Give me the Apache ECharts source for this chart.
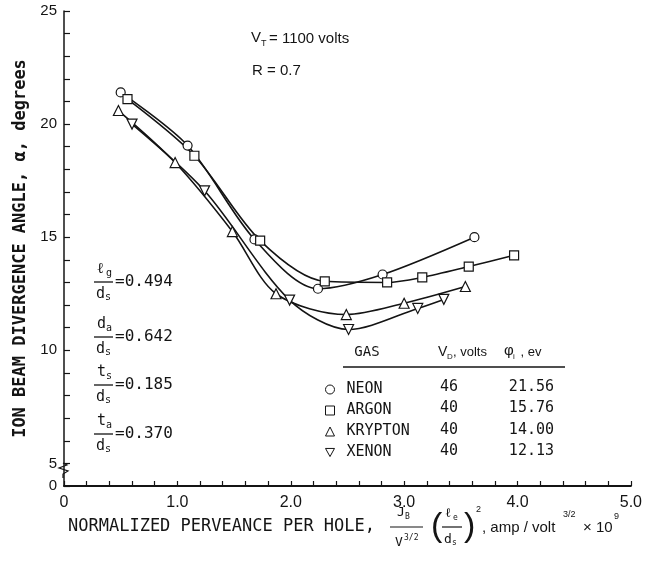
<!DOCTYPE html>
<html>
<head>
<meta charset="utf-8">
<script src="https://cdn.jsdelivr.net/npm/echarts@6/dist/echarts.min.js"></script>
<style>html,body{margin:0;padding:0;background:#fff}#c{width:645px;height:561px}</style>
</head>
<body>
<div id="c"></div>
<script>
// ---- data ----
const neonX = [0.50, 1.09, 1.68, 2.24, 2.81, 3.62];
const neonY = [21.4, 19.05, 14.9, 12.72, 13.35, 15.0];
const argonX = [0.56, 1.15, 1.73, 2.30, 2.85, 3.16, 3.57, 3.97];
const argonY = [21.1, 18.6, 14.85, 13.05, 13.0, 13.22, 13.7, 14.2];
const kryptonX = [0.48, 0.98, 1.485, 1.87, 2.49, 3.00, 3.54];
const kryptonY = [20.6, 18.3, 15.25, 12.5, 11.58, 12.08, 12.82];
const xenonX = [0.60, 1.24, 1.99, 2.51, 3.12, 3.35];
const xenonY = [20.0, 17.05, 12.22, 10.92, 11.85, 12.25];

const gasNames = ['NEON', 'ARGON', 'KRYPTON', 'XENON'];
const vdValues = ['46', '40', '40', '40'];
const phiValues = ['21.56', '15.76', '14.00', '12.13'];
const yTickLabels = [5, 10, 15, 20, 25];

// ---- build ----
const zip = (xs, ys) => xs.map((x, i) => [x, ys[i]]);
const INK = '#141414';
const MONO = '"DejaVu Sans Mono"';
const SANS = '"Liberation Sans"';
const downTri = 'path://M0,0L10,0L5,9Z';
const symbols = ['circle', 'rect', 'triangle', downTri];
const seriesData = [zip(neonX, neonY), zip(argonX, argonY), zip(kryptonX, kryptonY), zip(xenonX, xenonY)];

const series = gasNames.map((n, i) => ({
  name: n, type: 'line', smooth: 0.3, data: seriesData[i],
  symbol: symbols[i], symbolSize: i >= 2 ? 10 : 9,
  itemStyle: { color: '#fff', borderColor: INK, borderWidth: 1.2 },
  lineStyle: { color: INK, width: 1.6 },
  emphasis: { disabled: true }, animation: false
}));

function T(x, y, text, size, font, align, extra) {
  return Object.assign({
    type: 'text', x: x, y: y, silent: true,
    style: { text: text, font: size + 'px ' + font, fill: INK,
             textAlign: align || 'left', align: align || 'left',
             textVerticalAlign: 'middle', verticalAlign: 'middle' }
  }, extra || {});
}
function L(x1, y1, x2, y2, w) {
  return { type: 'line', silent: true, shape: { x1, y1, x2, y2 }, style: { stroke: INK, lineWidth: w || 1.3 } };
}

const g = [];
// V_T = 1100 volts, R = 0.7
g.push(T(251, 38, 'V', 15, SANS));
g.push(T(261, 44, 'T', 9, SANS));
g.push(T(269, 39, '= 1100 volts', 15, SANS));
g.push(T(252, 71, 'R = 0.7', 15, SANS));

// left fractions
const fr = [
  { y: 282, n: 'ℓ', ns: 'g', v: '=0.494' },
  { y: 337, n: 'd', ns: 'a', v: '=0.642' },
  { y: 385, n: 't', ns: 's', v: '=0.185' },
  { y: 434, n: 't', ns: 'a', v: '=0.370' }
];
fr.forEach(f => {
  g.push(T(97, f.y - 13, f.n, 15, MONO));
  g.push(T(106, f.y - 9, f.ns, 10, MONO));
  g.push(L(94, f.y, 113, f.y, 1.3));
  g.push(T(96, f.y + 12, 'd', 15, MONO));
  g.push(T(105, f.y + 15, 's', 10, MONO));
  g.push(T(115, f.y, f.v, 16, MONO));
});

// table
g.push(T(367, 352, 'GAS', 14, MONO, 'center'));
g.push(T(438, 352, 'V', 14, SANS));
g.push(T(447, 357, 'D', 8, SANS));
g.push(T(453, 352, ', volts', 13, SANS));
g.push(T(504, 351, 'φ', 15, SANS));
g.push(T(513, 357, 'i', 8, SANS));
g.push(T(517, 352, ' , ev', 13, SANS));
g.push(L(343, 367, 565, 367, 1.6));
gasNames.forEach((n, i) => {
  const y = 387 + i * 21.5;
  g.push(T(449, y, vdValues[i], 15, MONO, 'center'));
  g.push(T(554, y, phiValues[i], 15, MONO, 'right'));
});

// x-axis title
const ty = 527;
g.push(T(68, ty, 'NORMALIZED PERVEANCE PER HOLE,', 17, MONO));
g.push(T(397, ty - 14, 'J', 13, MONO));
g.push(T(405, ty - 10, 'B', 8, MONO));
g.push(L(390, ty, 423, ty, 1.2));
g.push(T(395, ty + 16, 'V', 13, MONO));
g.push(T(404, ty + 11, '3/2', 8, MONO));
g.push(T(431, ty, '(', 34, SANS));
g.push(T(445, ty - 13, 'ℓ', 13, MONO));
g.push(T(453, ty - 9, 'e', 8, MONO));
g.push(L(442, ty, 462, ty, 1.2));
g.push(T(444, ty + 13, 'd', 13, MONO));
g.push(T(452, ty + 16, 's', 8, MONO));
g.push(T(464, ty, ')', 34, SANS));
g.push(T(476, ty - 17, '2', 9, SANS));
g.push(T(482, ty + 1, ', amp / volt', 15, SANS));
g.push(T(563, ty - 12, '3/2', 9, SANS));
g.push(T(583, ty + 1, '× 10', 15, SANS));
g.push(T(614, ty - 10, '9', 9, SANS));

// axis break zigzag
g.push({ type: 'polyline', silent: true, z: 10,
  shape: { points: [[63, 478], [63, 474], [68, 471], [59, 468], [67, 465], [63, 463]] },
  style: { stroke: INK, lineWidth: 1.2, fill: null } });

const chart = echarts.init(document.getElementById('c'), null, { renderer: 'canvas' });
chart.setOption({
  animation: false,
  backgroundColor: '#fff',
  grid: { left: 64, right: 13, top: 11, bottom: 75, containLabel: false },
  xAxis: {
    type: 'value', min: 0, max: 5, interval: 1,
    axisLine: { lineStyle: { color: INK, width: 2 } },
    axisTick: { inside: true, length: 5, lineStyle: { color: INK, width: 1.2 } },
    minorTick: { show: true, splitNumber: 5, length: 5, lineStyle: { color: INK, width: 1.2 } },
    splitLine: { show: false },
    axisLabel: { color: INK, fontSize: 16, fontFamily: SANS, margin: 9,
      formatter: v => v === 0 ? '0' : v.toFixed(1) }
  },
  yAxis: {
    type: 'value', min: 4, max: 25, interval: 1,
    name: 'ION BEAM DIVERGENCE ANGLE, α, degrees',
    nameLocation: 'middle', nameGap: 33, nameRotate: 90,
    nameTextStyle: { color: INK, fontSize: 17, fontFamily: MONO, fontWeight: 'bold' },
    axisLine: { lineStyle: { color: INK, width: 1.5 } },
    axisTick: { inside: true, length: 6, lineStyle: { color: INK, width: 1.2 } },
    splitLine: { show: false },
    axisLabel: { color: INK, fontSize: 15, fontFamily: SANS, margin: 7,
      formatter: v => v === 4 ? '0' : (yTickLabels.indexOf(v) >= 0 ? String(v) : '') }
  },
  legend: {
    data: gasNames.map((n, i) => ({ name: n, icon: symbols[i] })),
    orient: 'vertical', left: 320, top: 376, itemWidth: 9, itemHeight: 9, itemGap: 4,
    selectedMode: false,
    itemStyle: { color: '#fff', borderColor: INK, borderWidth: 1 },
    textStyle: { color: INK, fontSize: 15, fontFamily: MONO, padding: [0, 0, 0, 7], lineHeight: 17 }
  },
  graphic: g,
  series: series
});
</script>
</body>
</html>
